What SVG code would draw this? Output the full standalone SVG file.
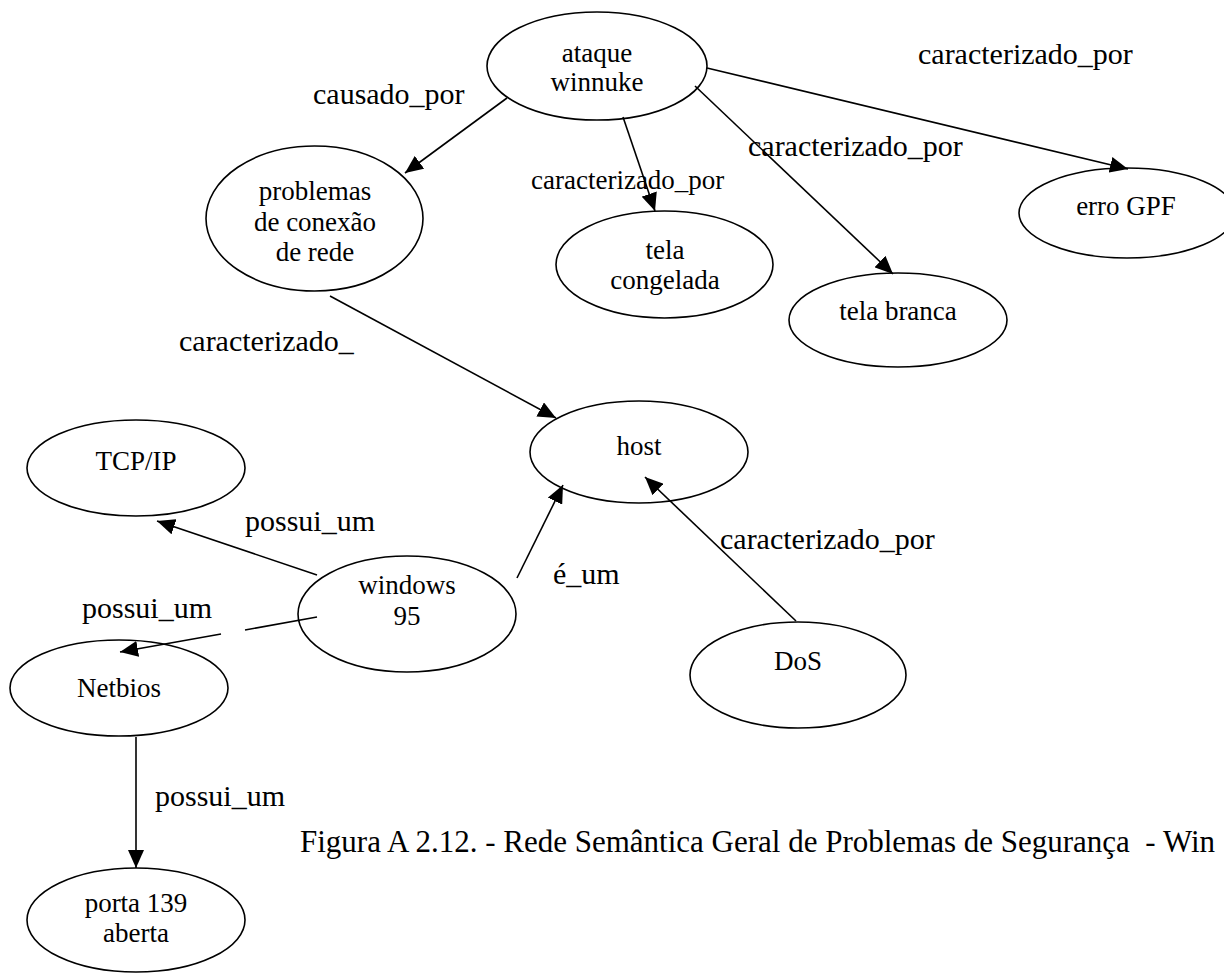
<svg xmlns="http://www.w3.org/2000/svg" width="1224" height="976" viewBox="0 0 1224 976">
  <style>
    .node ellipse { fill: #ffffff; stroke: #000000; stroke-width: 1.6; }
    .node text, .lbl, .caption { font-family: "Liberation Serif", "Times New Roman", serif; fill: #000000; }
    .node text { font-size: 27px; text-anchor: middle; }
    .lbl { font-size: 30px; }
    .lbl.sm { font-size: 27px; }
    .caption { font-size: 31px; }
    .edge { stroke: #000000; stroke-width: 1.6; fill: none; }
    .arrow { marker-end: url(#head); }
  </style>
  <defs>
    <marker id="head" viewBox="0 0 18 16" refX="18" refY="8" markerWidth="18" markerHeight="16" markerUnits="userSpaceOnUse" orient="auto">
      <path d="M0,0 L18,8 L0,16 Z" fill="#000000"/>
    </marker>
  </defs>
  <rect width="1224" height="976" fill="#ffffff"/>

  <!-- nodes -->
  <g id="n-ataque" class="node">
    <ellipse cx="597" cy="66" rx="110" ry="54"/>
    <text x="597" y="62">ataque</text>
    <text x="597" y="91">winnuke</text>
  </g>
  <g id="n-problemas" class="node">
    <ellipse cx="314.5" cy="218.5" rx="108.5" ry="72.5"/>
    <text x="315" y="200">problemas</text>
    <text x="315" y="231">de conexão</text>
    <text x="315" y="261">de rede</text>
  </g>
  <g id="n-congelada" class="node">
    <ellipse cx="664.5" cy="264.5" rx="108.5" ry="53.5"/>
    <text x="665" y="259">tela</text>
    <text x="665" y="289">congelada</text>
  </g>
  <g id="n-branca" class="node">
    <ellipse cx="898" cy="320" rx="109" ry="47"/>
    <text x="898" y="320">tela branca</text>
  </g>
  <g id="n-gpf" class="node">
    <ellipse cx="1127" cy="213" rx="108" ry="45"/>
    <text x="1126" y="215">erro GPF</text>
  </g>
  <g id="n-host" class="node">
    <ellipse cx="639" cy="452" rx="109" ry="51"/>
    <text x="639" y="455">host</text>
  </g>
  <g id="n-tcpip" class="node">
    <ellipse cx="136" cy="468" rx="109" ry="48"/>
    <text x="136" y="470">TCP/IP</text>
  </g>
  <g id="n-windows" class="node">
    <ellipse cx="407" cy="614" rx="109" ry="58"/>
    <text x="407" y="594">windows</text>
    <text x="407" y="625">95</text>
  </g>
  <g id="n-netbios" class="node">
    <ellipse cx="119" cy="688" rx="109" ry="48"/>
    <text x="119" y="697">Netbios</text>
  </g>
  <g id="n-dos" class="node">
    <ellipse cx="798" cy="675" rx="108" ry="53"/>
    <text x="798" y="670">DoS</text>
  </g>
  <g id="n-porta" class="node">
    <ellipse cx="136" cy="920" rx="109" ry="52"/>
    <text x="136" y="912">porta 139</text>
    <text x="136" y="942">aberta</text>
  </g>

  <!-- connectors (drawn over the ellipses) -->
  <g id="connectors">
    <line class="edge arrow" x1="507" y1="98" x2="405" y2="173"/>
    <line class="edge arrow" x1="623" y1="117" x2="655" y2="211"/>
    <line class="edge arrow" x1="695" y1="86" x2="893" y2="274"/>
    <line class="edge arrow" x1="707" y1="68" x2="1128" y2="169"/>
    <line class="edge arrow" x1="330" y1="296" x2="556" y2="418"/>
    <line class="edge arrow" x1="317" y1="575" x2="157" y2="521"/>
    <line class="edge" x1="317" y1="617" x2="245" y2="630"/>
    <line class="edge arrow" x1="221" y1="634" x2="120" y2="652"/>
    <line class="edge arrow" x1="517" y1="578" x2="563" y2="485"/>
    <line class="edge arrow" x1="796" y1="621" x2="645" y2="477"/>
    <line class="edge arrow" x1="136" y1="737" x2="136" y2="868"/>
  </g>

  <!-- edge labels -->
  <g id="labels">
    <text class="lbl" x="313" y="104">causado_por</text>
    <text class="lbl" x="918" y="64">caracterizado_por</text>
    <text class="lbl" x="748" y="156">caracterizado_por</text>
    <text class="lbl sm" x="531" y="189">caracterizado_por</text>
    <text class="lbl" x="179" y="351">caracterizado_</text>
    <text class="lbl" x="245" y="531">possui_um</text>
    <text class="lbl" x="82" y="618">possui_um</text>
    <text class="lbl" x="553" y="584">é_um</text>
    <text class="lbl" x="720" y="549">caracterizado_por</text>
    <text class="lbl" x="155" y="806">possui_um</text>
  </g>

  <!-- figure caption -->
  <text class="caption" x="300" y="852" xml:space="preserve">Figura A 2.12. - Rede Semântica Geral de Problemas de Segurança  - Win</text>
</svg>
